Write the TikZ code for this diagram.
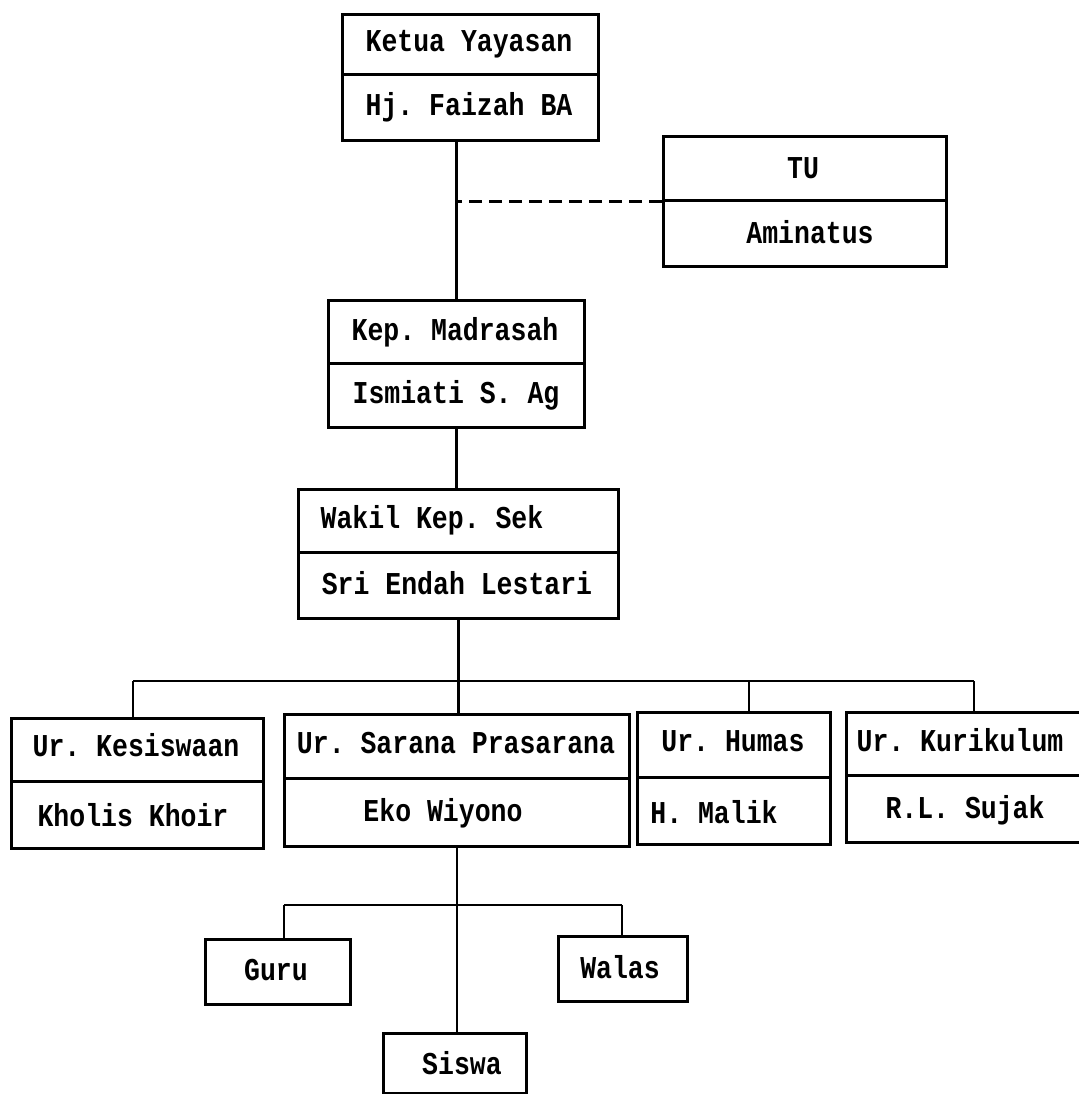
\documentclass[tikz,border=0pt]{standalone}
\usepackage{fontspec}
\usepackage{graphicx}
\setmonofont{Liberation Mono}
\tikzset{
  box/.style={draw, line width=3pt, inner sep=0pt, anchor=north west},
  lbl/.style={inner sep=0pt, font=\ttfamily\bfseries\fontsize{26.5}{30}\selectfont},
  conn/.style={line width=2.6pt},
  dashconn/.style={line width=2.6pt, dash pattern=on 13pt off 7pt},
  divider/.style={line width=3pt}
}
\newcommand\tx[1]{\scalebox{1}[1.2]{#1}}
\begin{document}
\begin{tikzpicture}[x=1pt,y=-1pt]
\useasboundingbox[fill=white] (0,0) rectangle (1078,1094);
% boxes
\node[box, minimum width=256pt, minimum height=126pt] (ket) at (341,13) {};
\node[box, minimum width=283pt, minimum height=130pt] (tu) at (662,135) {};
\node[box, minimum width=256pt, minimum height=127pt] (kep) at (327,299) {};
\node[box, minimum width=320pt, minimum height=129pt] (wak) at (297,488) {};
\node[box, minimum width=252pt, minimum height=130pt] (kes) at (10,717) {};
\node[box, minimum width=345pt, minimum height=132pt] (sar) at (283,713) {};
\node[box, minimum width=193pt, minimum height=132pt] (hum) at (636,711) {};
\node[box, minimum width=250pt, minimum height=130pt] (kur) at (845,711) {};
\node[box, minimum width=145pt, minimum height=65pt] (gur) at (204,938) {};
\node[box, minimum width=129pt, minimum height=65pt] (wal) at (557,935) {};
\node[box, minimum width=143pt, minimum height=60pt] (sis) at (382,1032) {};
% dividers
\draw[divider] (ket.west |- 0,75) -- (ket.east |- 0,75);
\draw[divider] (tu.west |- 0,200) -- (tu.east |- 0,200);
\draw[divider] (kep.west |- 0,363) -- (kep.east |- 0,363);
\draw[divider] (wak.west |- 0,552) -- (wak.east |- 0,552);
\draw[divider] (kes.west |- 0,781) -- (kes.east |- 0,781);
\draw[divider] (sar.west |- 0,778) -- (sar.east |- 0,778);
\draw[divider] (hum.west |- 0,777) -- (hum.east |- 0,777);
\draw[divider] (kur.west |- 0,775) -- (kur.east |- 0,775);
% labels
\node[lbl] (t1) at (469,44) {\tx{Ketua Yayasan}};
\node[lbl] (t2) at (469,107) {\tx{Hj. Faizah BA}};
\node[lbl] (t3) at (803,168) {\tx{TU}};
\node[lbl] (t4) at (810,232) {\tx{Aminatus}};
\node[lbl] (t5) at (455,332) {\tx{Kep. Madrasah}};
\node[lbl] (t6) at (456,395) {\tx{Ismiati S. Ag}};
\node[lbl] (t7) at (432,520) {\tx{Wakil Kep. Sek}};
\node[lbl] (t8) at (457,583) {\tx{Sri Endah Lestari}};
\node[lbl] (t9) at (136,745) {\tx{Ur. Kesiswaan}};
\node[lbl] (t10) at (133,815) {\tx{Kholis Khoir}};
\node[lbl] (t11) at (456,743) {\tx{Ur. Sarana Prasarana}};
\node[lbl] (t12) at (443,813) {\tx{Eko Wiyono}};
\node[lbl] (t13) at (733,741) {\tx{Ur. Humas}};
\node[lbl] (t14) at (714,812) {\tx{H. Malik}};
\node[lbl] (t15) at (960,740) {\tx{Ur. Kurikulum}};
\node[lbl] (t16) at (965,810) {\tx{R.L. Sujak}};
\node[lbl] (t17) at (276,970) {\tx{Guru}};
\node[lbl] (t18) at (620,967) {\tx{Walas}};
\node[lbl] (t19) at (462,1063) {\tx{Siswa}};
% connectors
\coordinate (bl) at (133,681);
\coordinate (bh) at (749,681);
\coordinate (br) at (974,681);
\coordinate (gl) at (284,905);
\coordinate (gr) at (622,905);
\draw[conn] (kep.north) -- (kep.north |- ket.south);
\draw[dashconn] (tu.west) -- (tu.west -| kep.north);
\draw[conn] (kep.south) -- (kep.south |- wak.north);
\draw[conn] (wak.south) -- (wak.south |- sar.north);
\draw[conn] (bl) -- (br);
\draw[conn] (bl) -- (bl |- kes.north);
\draw[conn] (bh) -- (bh |- hum.north);
\draw[conn] (br) -- (br |- kur.north);
\draw[conn] (sar.south) -- (sar.south |- sis.north);
\draw[conn] (gl) -- (gr);
\draw[conn] (gl) -- (gl |- gur.north);
\draw[conn] (gr) -- (gr |- wal.north);
\end{tikzpicture}
\end{document}
